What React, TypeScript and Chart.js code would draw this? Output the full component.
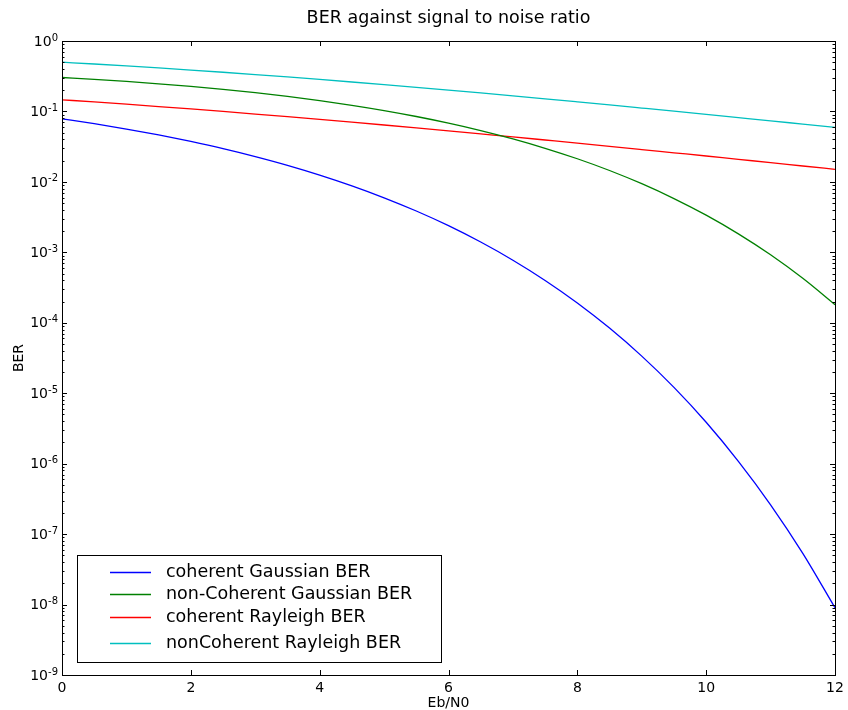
import { useEffect, useRef } from "react";
import { Chart, registerables } from "chart.js";

Chart.register(...registerables);

const ebN0 = [0, 0.5, 1, 1.5, 2, 2.5, 3, 3.5, 4, 4.5, 5, 5.5, 6, 6.5, 7, 7.5, 8, 8.5, 9, 9.5, 10, 10.5, 11, 11.5, 12];

const coherentGaussian = [
  0.0786, 0.0671, 0.0563, 0.0464, 0.0375, 0.0297, 0.0229, 0.0172, 0.0125, 0.00879,
  0.00595, 0.00386, 0.00239, 0.0014, 7.73e-4, 3.99e-4, 1.91e-4, 8.4e-5, 3.36e-5, 1.21e-5,
  3.87e-6, 1.08e-6, 2.61e-7, 5.33e-8, 9.0e-9,
];
const nonCoherentGaussian = [
  0.3033, 0.2853, 0.2664, 0.2467, 0.2264, 0.2055, 0.1844, 0.1632, 0.1424, 0.1222,
  0.1029, 0.0848, 0.0683, 0.0536, 0.0408, 0.03, 0.0213, 0.01451, 0.00942, 0.0058,
  0.00337, 0.00183, 9.23e-4, 4.28e-4, 1.81e-4,
];
const coherentRayleigh = [
  0.1464, 0.1364, 0.1267, 0.1174, 0.1085, 0.1, 0.0919, 0.0843, 0.0771, 0.0704,
  0.0642, 0.0584, 0.053, 0.048, 0.0435, 0.0393, 0.0355, 0.032, 0.0288, 0.0259,
  0.0233, 0.0209, 0.0188, 0.0168, 0.0151,
];
const nonCoherentRayleigh = [
  0.5, 0.4713, 0.4427, 0.4145, 0.3869, 0.3599, 0.3339, 0.3088, 0.2847, 0.2619,
  0.2403, 0.2199, 0.2008, 0.1829, 0.1663, 0.151, 0.1368, 0.1238, 0.1118, 0.1009,
  0.0909, 0.0818, 0.0736, 0.0661, 0.0594,
];

const seriesLabels = [
  "coherent Gaussian BER",
  "non-Coherent Gaussian BER",
  "coherent Rayleigh BER",
  "nonCoherent Rayleigh BER",
];
const seriesValues = [coherentGaussian, nonCoherentGaussian, coherentRayleigh, nonCoherentRayleigh];
const seriesColors = ["#0000ff", "#008000", "#ff0000", "#00bfbf"];

const xTicks = [0, 2, 4, 6, 8, 10, 12];
const yExponents = [0, -1, -2, -3, -4, -5, -6, -7, -8, -9];

const titleText = "BER against signal to noise ratio";
const xLabel = "Eb/N0";
const yLabel = "BER";

const FONT = "'DejaVu Sans', sans-serif";

const decorPlugin = {
  id: "decor",
  afterDraw(chart: any) {
    const ctx = chart.ctx as CanvasRenderingContext2D;
    const ca = chart.chartArea;
    const xs = chart.scales.x;
    const ys = chart.scales.y;
    ctx.save();
    ctx.fillStyle = "#000";
    ctx.strokeStyle = "#000";

    // frame
    ctx.lineWidth = 1;
    ctx.strokeRect(Math.round(ca.left) + 0.5, Math.round(ca.top) + 0.5, Math.round(ca.right - ca.left), Math.round(ca.bottom - ca.top));

    // x ticks
    ctx.beginPath();
    for (const v of xTicks) {
      const px = Math.round(xs.getPixelForValue(v)) + 0.5;
      ctx.moveTo(px, ca.bottom);
      ctx.lineTo(px, ca.bottom - 5);
      ctx.moveTo(px, ca.top);
      ctx.lineTo(px, ca.top + 5);
    }
    // y ticks
    for (const e of yExponents) {
      const py = Math.round(ys.getPixelForValue(Math.pow(10, e))) + 0.5;
      ctx.moveTo(ca.left, py);
      ctx.lineTo(ca.left + 5, py);
      ctx.moveTo(ca.right, py);
      ctx.lineTo(ca.right - 5, py);
      if (e > -9) {
        for (let m = 2; m <= 9; m++) {
          const v = m * Math.pow(10, e - 1);
          const pm = Math.round(ys.getPixelForValue(v)) + 0.5;
          ctx.moveTo(ca.left, pm);
          ctx.lineTo(ca.left + 2.5, pm);
          ctx.moveTo(ca.right, pm);
          ctx.lineTo(ca.right - 2.5, pm);
        }
      }
    }
    ctx.stroke();

    // x tick labels
    ctx.font = `14px ${FONT}`;
    ctx.textAlign = "center";
    ctx.textBaseline = "middle";
    for (const v of xTicks) {
      ctx.fillText(String(v), xs.getPixelForValue(v), ca.bottom + 13);
    }

    // y tick labels with superscripts
    for (const e of yExponents) {
      const py = ys.getPixelForValue(Math.pow(10, e));
      const sup = String(e);
      ctx.font = `10px ${FONT}`;
      const supW = ctx.measureText(sup).width;
      ctx.font = `14px ${FONT}`;
      const baseW = ctx.measureText("10").width;
      const right = ca.left - 4;
      ctx.textAlign = "left";
      ctx.textBaseline = "middle";
      ctx.fillText("10", right - supW - baseW, py + 1);
      ctx.font = `10px ${FONT}`;
      ctx.fillText(sup, right - supW, py - 3);
    }

    // title
    ctx.font = `17.5px ${FONT}`;
    ctx.textAlign = "center";
    ctx.textBaseline = "middle";
    ctx.fillText(titleText, (ca.left + ca.right) / 2, 18);

    // axis labels
    ctx.font = `14px ${FONT}`;
    ctx.fillText(xLabel, (ca.left + ca.right) / 2, 703);
    ctx.save();
    ctx.translate(19, (ca.top + ca.bottom) / 2);
    ctx.rotate(-Math.PI / 2);
    ctx.fillText(yLabel, 0, 0);
    ctx.restore();

    // legend
    const boxL = 77.5, boxT = 555.5, boxW = 364, boxH = 107;
    ctx.fillStyle = "#fff";
    ctx.fillRect(boxL, boxT, boxW, boxH);
    ctx.strokeStyle = "#000";
    ctx.lineWidth = 1;
    ctx.strokeRect(boxL, boxT, boxW, boxH);
    const rowY = [572, 594, 617, 643];
    ctx.font = `17.5px ${FONT}`;
    ctx.textAlign = "left";
    ctx.textBaseline = "middle";
    seriesLabels.forEach((label, i) => {
      const y = rowY[i];
      ctx.strokeStyle = seriesColors[i];
      ctx.lineWidth = 1.3;
      ctx.beginPath();
      ctx.moveTo(110, y + 0.5);
      ctx.lineTo(151, y + 0.5);
      ctx.stroke();
      ctx.fillStyle = "#000";
      ctx.fillText(label, 166, y);
    });

    ctx.restore();
  },
};

export default function App() {
  const ref = useRef<HTMLCanvasElement | null>(null);

  useEffect(() => {
    document.body.style.margin = "0";
    const canvas = ref.current;
    if (!canvas) return;
    const chart = new Chart(canvas, {
      type: "line",
      data: {
        datasets: seriesLabels.map((label, i) => ({
          label,
          data: ebN0.map((x, j) => ({ x, y: seriesValues[i][j] })),
          borderColor: seriesColors[i],
          backgroundColor: seriesColors[i],
          borderWidth: 1.3,
          pointRadius: 0,
          fill: false,
          cubicInterpolationMode: "monotone" as const,
        })),
      },
      options: {
        responsive: false,
        animation: false,
        devicePixelRatio: 1,
        layout: { padding: { left: 62, top: 41, right: 13, bottom: 35 } },
        plugins: {
          legend: { display: false },
          title: { display: false },
          tooltip: { enabled: false },
        },
        scales: {
          x: { type: "linear", min: 0, max: 12, display: false },
          y: { type: "logarithmic", min: 1e-9, max: 1, display: false },
        },
      },
      plugins: [decorPlugin],
    });
    return () => chart.destroy();
  }, []);

  return (
    <div style={{ width: 848, height: 710, background: "#fff" }}>
      <canvas ref={ref} width={848} height={710} style={{ display: "block" }} />
    </div>
  );
}
